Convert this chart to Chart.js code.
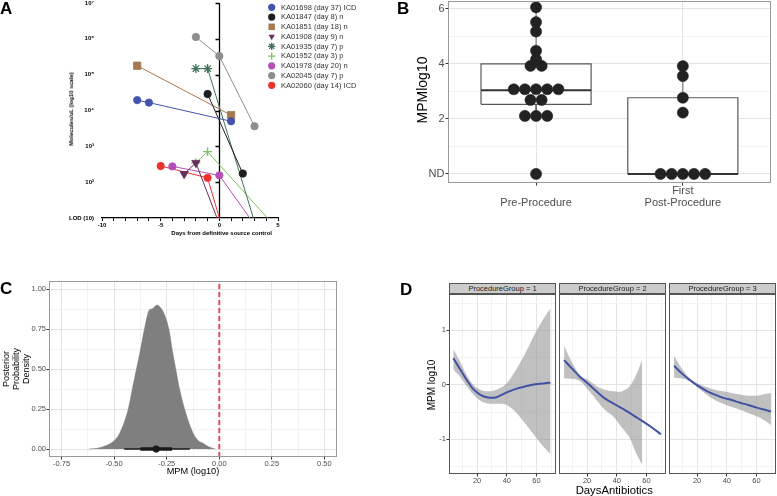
<!DOCTYPE html>
<html>
<head>
<meta charset="utf-8">
<title>MPM figure</title>
<script src="https://cdn.jsdelivr.net/npm/chart.js@4.4.1/dist/chart.umd.min.js"></script>
<style>
  html, body { margin: 0; padding: 0; background: #fff; }
  body { position: relative; width: 777px; height: 496px; overflow: hidden; font-family: "Liberation Sans", Arial, sans-serif; }
  canvas { position: absolute; }
  .t { position: absolute; white-space: nowrap; line-height: 1; color: #000; }
  .letter { font-weight: bold; font-size: 17px; }
  .vert { transform: translate(-50%, -50%) rotate(-90deg); text-align: center; }
  .hor { transform: translate(-50%, -50%); text-align: center; }
  .strip { position: absolute; box-sizing: border-box; top: 283px; width: 107px; height: 11px; background: #CCCCCC; border: 1px solid #555; font-size: 7.5px; color: #1a1a1a; text-align: center; line-height: 9px; }
</style>
</head>
<body>
<canvas id="chartA" width="380" height="260" style="left:0;top:-9px"></canvas>
<canvas id="chartB" width="377" height="230" style="left:400px;top:-11px"></canvas>
<canvas id="chartC" width="380" height="226" style="left:0;top:270px"></canvas>
<canvas id="chartD1" width="160" height="216" style="left:400px;top:280px"></canvas>
<canvas id="chartD2" width="117" height="216" style="left:553px;top:280px"></canvas>
<canvas id="chartD3" width="117" height="216" style="left:663px;top:280px"></canvas>

<div class="t letter" style="left:0;top:-0.5px">A</div>
<div class="t letter" style="left:397px;top:-0.5px">B</div>
<div class="t letter" style="left:0;top:279.5px">C</div>
<div class="t letter" style="left:400px;top:281px">D</div>

<div class="t hor" style="left:221.7px;top:233px;font-size:6px;font-weight:bold">Days from definitive source control</div>
<div class="t vert" style="left:72px;top:108.5px;font-size:5.8px;font-weight:bold">Molecules/uL (log10 scale)</div>

<div class="t vert" style="left:421.7px;top:90px;font-size:14px">MPMlog10</div>

<div class="t vert" style="left:16px;top:369px;font-size:9px;line-height:10px">Posterior<br>Probability<br>Density</div>
<div class="t hor" style="left:193px;top:471.7px;font-size:9.2px">MPM (log10)</div>

<div class="strip" style="left:449px">ProcedureGroup = 1</div>
<div class="strip" style="left:559px">ProcedureGroup = 2</div>
<div class="strip" style="left:669px">ProcedureGroup = 3</div>
<div class="t vert" style="left:431.7px;top:385px;font-size:10px">MPM log10</div>
<div class="t hor" style="left:614.3px;top:490.7px;font-size:11.3px">DaysAntibiotics</div>

<script>
// ---------- Panel A: log10 molecules/uL by day from source control (1 = LOD) ----------
const aSeriesNames = ['KA01698 (day 37) ICD', 'KA01847 (day 8) n', 'KA01851 (day 18) n', 'KA01908 (day 9) n',
  'KA01935 (day 7) p', 'KA01952 (day 3) p', 'KA01978 (day 20) n', 'KA02045 (day 7) p', 'KA02060 (day 14) ICD'];
const ka01698Days = [-7, -6, 1];      const ka01698Log = [4.29, 4.22, 3.70];
const ka01847Days = [-1, 2];          const ka01847Log = [4.46, 2.24];
const ka01851Days = [-7, 1];          const ka01851Log = [5.25, 3.87];
const ka01908Days = [-3, -2, -0.2];   const ka01908Log = [2.23, 2.54, 1];
const ka01935Days = [-2, -1, 2.9];    const ka01935Log = [5.17, 5.17, 1];
const ka01952Days = [-2, -1, 4.1];    const ka01952Log = [2.54, 2.85, 1];
const ka01978Days = [-4, 0, 2.6];     const ka01978Log = [2.44, 2.19, 1];
const ka02045Days = [-2, 0, 3];       const ka02045Log = [6.05, 5.52, 3.56];
const ka02060Days = [-5, -1, 0];      const ka02060Log = [2.45, 2.12, 1];
const aYTickLabels = ['LOD (10)', '10²', '10³', '10⁴', '10⁵', '10⁶', '10⁷'];

// ---------- Panel B: MPM log10 per sample ----------
const bCategories = ['Pre-Procedure', 'First\nPost-Procedure'];
const bPreValues = [6.06, 5.52, 5.18, 4.48, 4.17, 3.93, 3.93, 3.08, 3.08, 3.08, 3.08, 3.08, 2.69, 2.69, 2.11, 2.11, 2.11, 0];
const bPostValues = [3.92, 3.56, 2.77, 2.23, 0, 0, 0, 0, 0];
const bWhiskerLo = [2.11, 0];
const bQ1 = [2.53, 0];
const bMedian = [3.04, 0];
const bQ3 = [4.00, 2.77];
const bWhiskerHi = [6.06, 3.92];

// ---------- Panel C: posterior density ----------
const cDensityX = [-0.62, -0.58, -0.541, -0.502, -0.473, -0.433, -0.41, -0.394, -0.378, -0.356, -0.332, -0.32,
  -0.296, -0.28, -0.264, -0.24, -0.221, -0.207, -0.193, -0.165, -0.125, -0.098, -0.075, -0.059, -0.035, -0.019];
const cDensityY = [0, 0.005, 0.02, 0.05, 0.10, 0.25, 0.40, 0.50, 0.60, 0.75, 0.87, 0.875,
  0.90, 0.885, 0.85, 0.75, 0.60, 0.50, 0.40, 0.25, 0.10, 0.05, 0.035, 0.02, 0.006, 0];
const cIntervalOuter = [-0.452, -0.14];
const cIntervalInner = [-0.375, -0.225];
const cPointEstimate = [-0.30];
const cReference = [0];

// ---------- Panel D: smooth fits by procedure group ----------
const d1X = [4, 8.5, 13, 17.5, 22, 26.5, 31, 35.5, 40, 45.6, 52.4, 59.1, 65.8, 69.4];
const d1Fit = [0.49, 0.29, 0.09, -0.08, -0.18, -0.23, -0.24, -0.2, -0.14, -0.08, -0.03, 0.01, 0.03, 0.04];
const d1Upper = [0.66, 0.43, 0.18, 0, -0.09, -0.12, -0.11, -0.06, 0.03, 0.25, 0.58, 0.95, 1.26, 1.41];
const d1Lower = [0.28, 0.15, -0.02, -0.18, -0.29, -0.34, -0.35, -0.35, -0.37, -0.49, -0.71, -0.95, -1.17, -1.27];

const d2X = [4.5, 9.5, 15.1, 20.7, 26.3, 31.9, 37.5, 43.2, 48.8, 56.7, 63.4, 69.7];
const d2Fit = [0.455, 0.31, 0.15, 0.02, -0.12, -0.25, -0.34, -0.43, -0.52, -0.66, -0.78, -0.91];
const d2BandX = [4.5, 9.5, 15.1, 20.7, 26.3, 31.9, 37.5, 41, 45, 48.8, 53, 57.1];
const d2Upper = [0.72, 0.43, 0.18, 0.09, -0.02, -0.09, -0.12, -0.13, -0.10, -0.02, 0.18, 0.46];
const d2Lower = [0.12, 0.11, 0.07, -0.09, -0.28, -0.46, -0.58, -0.70, -0.84, -0.98, -1.26, -1.47];

const d3X = [4.5, 9.5, 15.1, 20.7, 26.3, 31.9, 37.5, 43.2, 48.8, 54.4, 60, 65.7, 69.7];
const d3Fit = [0.35, 0.215, 0.09, -0.02, -0.11, -0.18, -0.24, -0.28, -0.33, -0.37, -0.42, -0.46, -0.49];
const d3Upper = [0.53, 0.31, 0.12, 0.02, -0.04, -0.09, -0.12, -0.15, -0.18, -0.2, -0.2, -0.17, -0.15];
const d3Lower = [0.13, 0.12, 0.06, -0.06, -0.18, -0.28, -0.35, -0.41, -0.46, -0.52, -0.58, -0.66, -0.74];

Chart.defaults.font.family = '"Liberation Sans", Arial, Helvetica, sans-serif';
Chart.defaults.animation = false;
Chart.defaults.events = [];
Chart.defaults.plugins.legend.display = false;
Chart.defaults.plugins.tooltip.enabled = false;

const near = (v, step) => Math.abs(v / step - Math.round(v / step)) < 1e-6;
const fixedWidth = w => s => { s.width = w; };
const fixedHeight = h => s => { s.height = h; };
const pts = (xs, ys) => xs.map((x, i) => ({ x: x, y: ys[i] }));

// ggplot-like grid: major lines every `step`, lighter minor lines between
function ggGrid(step, ticks) {
  return {
    color: c => (c.tick && near(c.tick.value, step)) ? '#E4E4E4' : '#F2F2F2',
    tickColor: c => (ticks && c.tick && near(c.tick.value, step)) ? '#333' : 'rgba(0,0,0,0)',
    drawTicks: true,
    tickLength: 2.5
  };
}
function frame(color) {
  return {
    id: 'frame',
    afterDatasetsDraw(chart) {
      const a = chart.chartArea, c = chart.ctx;
      c.save();
      c.strokeStyle = color;
      c.lineWidth = 1;
      c.strokeRect(Math.round(a.left) + 0.5, Math.round(a.top) + 0.5, Math.round(a.right - a.left) - 1, Math.round(a.bottom - a.top) - 1);
      c.restore();
    }
  };
}

// ---------------- Panel A ----------------
const aDays = [ka01698Days, ka01847Days, ka01851Days, ka01908Days, ka01935Days, ka01952Days, ka01978Days, ka02045Days, ka02060Days];
const aLogs = [ka01698Log, ka01847Log, ka01851Log, ka01908Log, ka01935Log, ka01952Log, ka01978Log, ka02045Log, ka02060Log];
const aColors = ['#4454AE', '#1E1E1E', '#A57A4F', '#6A2C5D', '#3F7357', '#7DC25C', '#B250B8', '#8E8E8E', '#E8332E'];
const aStyles = ['circle', 'circle', 'rect', 'triangle', 'star', 'cross', 'circle', 'circle', 'circle'];
const aSizes = [3.7, 3.7, 5.2, 4.8, 4.5, 4.5, 3.7, 3.7, 3.7];

function drawMarker(ctx, style, x, y, r, color) {
  ctx.save();
  ctx.fillStyle = color; ctx.strokeStyle = color; ctx.lineWidth = 1.3;
  ctx.beginPath();
  if (style === 'circle') { ctx.arc(x, y, r, 0, Math.PI * 2); ctx.fill(); }
  else if (style === 'rect') { const s = r * Math.SQRT1_2; ctx.rect(x - s, y - s, 2 * s, 2 * s); ctx.fill(); }
  else if (style === 'triangle') {
    ctx.moveTo(x - r * 0.866, y - r / 2); ctx.lineTo(x + r * 0.866, y - r / 2); ctx.lineTo(x, y + r); ctx.closePath(); ctx.fill();
  } else if (style === 'cross') {
    ctx.moveTo(x - r, y); ctx.lineTo(x + r, y); ctx.moveTo(x, y - r); ctx.lineTo(x, y + r); ctx.stroke();
  } else if (style === 'star') {
    for (let k = 0; k < 4; k++) {
      const a = k * Math.PI / 4;
      ctx.moveTo(x - r * Math.cos(a), y - r * Math.sin(a)); ctx.lineTo(x + r * Math.cos(a), y + r * Math.sin(a));
    }
    ctx.stroke();
  }
  ctx.restore();
}

const aAxisAtZero = {
  id: 'aAxisAtZero',
  beforeDatasetsDraw(chart) {
    const { ctx, scales: { x, y } } = chart;
    const px = Math.round(x.getPixelForValue(0)) + 0.5;
    ctx.save();
    ctx.strokeStyle = '#000';
    ctx.lineWidth = 1.3;
    ctx.beginPath();
    ctx.moveTo(px, y.getPixelForValue(y.max));
    ctx.lineTo(px, y.getPixelForValue(y.min));
    for (let v = y.min + 1; v <= y.max; v++) {
      const py = Math.round(y.getPixelForValue(v)) + 0.5;
      ctx.moveTo(px, py); ctx.lineTo(px - 4, py);
    }
    ctx.stroke();
    ctx.restore();
  },
  afterDraw(chart) {
    const ctx = chart.ctx;
    ctx.save();
    ctx.font = '7.5px "Liberation Sans", Arial, sans-serif';
    ctx.fillStyle = '#333';
    ctx.textBaseline = 'middle';
    aSeriesNames.forEach((name, i) => {
      const y = 9 + 7.3 + i * 9.75;
      drawMarker(ctx, aStyles[i], 271.7, y, i === 2 ? 4.6 : 3.6, aColors[i]);
      ctx.fillText(name, 281, y + 0.3);
    });
    ctx.restore();
  }
};

new Chart(document.getElementById('chartA'), {
  type: 'scatter',
  data: {
    datasets: aSeriesNames.map((name, i) => ({
      label: name,
      data: pts(aDays[i], aLogs[i]),
      showLine: true,
      borderColor: aColors[i],
      backgroundColor: aColors[i],
      borderWidth: 1,
      pointStyle: aStyles[i],
      pointRotation: aStyles[i] === 'triangle' ? 180 : 0,
      pointRadius: c => (c.raw && c.raw.y <= 1) ? 0 : aSizes[i],
      pointBorderWidth: (aStyles[i] === 'star' || aStyles[i] === 'cross') ? 1.3 : 0.8,
      pointBorderColor: aColors[i],
      pointBackgroundColor: aColors[i],
      clip: false
    }))
  },
  options: {
    responsive: false,
    layout: { padding: { left: 0, right: 102, top: 12, bottom: 13 } },
    scales: {
      x: {
        type: 'linear', min: -10, max: 5,
        border: { display: true, color: '#000', width: 1.3 },
        grid: { drawOnChartArea: false, drawTicks: true, tickLength: 3, tickColor: '#000' },
        ticks: {
          stepSize: 1, autoSkip: false, maxRotation: 0, padding: 1, color: '#000',
          font: { size: 6, weight: 'bold' },
          callback: v => (v % 5 === 0 ? String(v) : '')
        },
        afterFit: fixedHeight(20)
      },
      y: {
        type: 'linear', min: 1, max: 7,
        border: { display: false },
        grid: { display: false },
        ticks: {
          stepSize: 1, autoSkip: false, padding: 0, color: '#000',
          font: { size: 6, weight: 'bold' },
          callback: v => aYTickLabels[v - 1]
        },
        afterFit: fixedWidth(102)
      }
    }
  },
  plugins: [aAxisAtZero]
});

// ---------------- Panel B ----------------
const dotStep = 0.076;
const boxHalf = 0.375;
function stackDots(values, center) {
  const groups = {};
  values.forEach(v => { const k = v.toFixed(2); (groups[k] = groups[k] || []).push(v); });
  const out = [];
  Object.values(groups).forEach(g => g.forEach((v, k) => out.push({ x: center + (k - (g.length - 1) / 2) * dotStep, y: v })));
  return out;
}
const bDatasets = [{
  data: stackDots(bPreValues, 1).concat(stackDots(bPostValues, 2)),
  pointRadius: 5.6, pointBackgroundColor: '#222', pointBorderColor: '#222', pointBorderWidth: 0.5, order: 0
}];
bCategories.forEach((c, i) => {
  const cx = i + 1;
  bDatasets.push({
    data: [{ x: cx - boxHalf, y: bQ1[i] }, { x: cx + boxHalf, y: bQ1[i] }, { x: cx + boxHalf, y: bQ3[i] },
           { x: cx - boxHalf, y: bQ3[i] }, { x: cx - boxHalf, y: bQ1[i] }],
    showLine: true, fill: 'shape', backgroundColor: '#fff', borderColor: '#595959', borderWidth: 1.2,
    pointRadius: 0, order: 3
  });
  bDatasets.push({
    data: [{ x: cx - boxHalf, y: bMedian[i] }, { x: cx + boxHalf, y: bMedian[i] }],
    showLine: true, borderColor: '#333', borderWidth: 2, pointRadius: 0, order: 2
  });
  bDatasets.push({
    data: [{ x: cx, y: bQ3[i] }, { x: cx, y: bWhiskerHi[i] }],
    showLine: true, borderColor: '#666', borderWidth: 1, pointRadius: 0, order: 1
  });
  bDatasets.push({
    data: [{ x: cx, y: bQ1[i] }, { x: cx, y: bWhiskerLo[i] }],
    showLine: true, borderColor: '#666', borderWidth: 1, pointRadius: 0, order: 1
  });
});

new Chart(document.getElementById('chartB'), {
  type: 'scatter',
  data: { datasets: bDatasets },
  options: {
    responsive: false,
    layout: { padding: { left: 0, right: 4, top: 12, bottom: 0 } },
    scales: {
      x: {
        type: 'linear', min: 0.4, max: 2.6,
        afterBuildTicks: s => { s.ticks = bCategories.map((c, i) => ({ value: i + 1 })); },
        border: { display: false },
        grid: ggGrid(1, true),
        ticks: {
          autoSkip: false, maxRotation: 0, padding: 0, color: '#4D4D4D',
          font: { size: 11, lineHeight: 1.06 },
          callback: v => { const l = bCategories[v - 1].split('\n'); return l.length < 2 ? [''].concat(l) : l; }
        },
        afterFit: fixedHeight(36)
      },
      y: {
        type: 'linear', min: -0.33, max: 6.29,
        border: { display: false },
        grid: ggGrid(2, true),
        ticks: {
          stepSize: 1, includeBounds: false, autoSkip: false, padding: 1, color: '#4D4D4D',
          font: { size: 11 },
          callback: v => (v === 0 ? 'ND' : (v % 2 === 0 ? String(v) : ''))
        },
        afterFit: fixedWidth(48)
      }
    }
  },
  plugins: [frame('#9A9A9A')]
});

// ---------------- Panel C ----------------
new Chart(document.getElementById('chartC'), {
  type: 'scatter',
  data: {
    datasets: [
      { data: cReference.map(v => ({ x: v, y: -0.05 })).concat(cReference.map(v => ({ x: v, y: 1.05 }))),
        showLine: true, borderColor: '#E05058', borderWidth: 2, borderDash: [5, 3], pointRadius: 0, order: -1 },
      { data: cPointEstimate.map(v => ({ x: v, y: 0 })), pointRadius: 3.2, pointBackgroundColor: '#1a1a1a',
        pointBorderColor: '#1a1a1a', order: 0 },
      { data: cIntervalInner.map(v => ({ x: v, y: 0 })), showLine: true, borderColor: '#1a1a1a', borderWidth: 3.5,
        pointRadius: 0, order: 1 },
      { data: cIntervalOuter.map(v => ({ x: v, y: 0 })), showLine: true, borderColor: '#1a1a1a', borderWidth: 1.5,
        pointRadius: 0, order: 2 },
      { data: pts(cDensityX, cDensityY), showLine: true, fill: 'origin', backgroundColor: '#7F7F7F',
        borderColor: '#7F7F7F', borderWidth: 0.5, pointRadius: 0, cubicInterpolationMode: 'monotone', order: 3 }
    ]
  },
  options: {
    responsive: false,
    layout: { padding: { left: 0, right: 43, top: 11, bottom: 0 } },
    scales: {
      x: {
        type: 'linear', min: -0.81, max: 0.56,
        border: { display: false },
        grid: ggGrid(0.25, true),
        ticks: {
          stepSize: 0.125, includeBounds: false, autoSkip: false, maxRotation: 0, padding: 0, color: '#4D4D4D',
          font: { size: 7.5 },
          callback: v => (near(v, 0.25) ? (Math.abs(v) < 1e-9 ? 0 : v).toFixed(2) : '')
        },
        afterFit: fixedHeight(39)
      },
      y: {
        type: 'linear', min: -0.05, max: 1.05,
        border: { display: false },
        grid: ggGrid(0.25, true),
        ticks: {
          stepSize: 0.125, includeBounds: false, autoSkip: false, padding: 0.5, color: '#4D4D4D',
          font: { size: 7.5 },
          callback: v => (near(v, 0.25) ? (Math.abs(v) < 1e-9 ? 0 : v).toFixed(2) : '')
        },
        afterFit: fixedWidth(49)
      }
    }
  },
  plugins: [frame('#9A9A9A')]
});

// ---------------- Panel D ----------------
const bandColor = 'rgba(150,150,150,0.6)';
function facetChart(id, xFit, fit, xBand, upper, lower, yWidth, showY) {
  return new Chart(document.getElementById(id), {
    type: 'scatter',
    data: {
      datasets: [
        { data: pts(xFit, fit), showLine: true, borderColor: '#4152A3', borderWidth: 2, pointRadius: 0,
          cubicInterpolationMode: 'monotone', order: 0 },
        { data: pts(xBand, upper), showLine: true, borderColor: 'rgba(0,0,0,0)', borderWidth: 0, backgroundColor: bandColor,
          fill: '+1', pointRadius: 0, cubicInterpolationMode: 'monotone', order: 1 },
        { data: pts(xBand, lower), showLine: true, borderColor: 'rgba(0,0,0,0)', borderWidth: 0, fill: false,
          pointRadius: 0, cubicInterpolationMode: 'monotone', order: 2 }
      ]
    },
    options: {
      responsive: false,
      layout: { padding: { left: 0, right: 4, top: 14, bottom: 0 } },
      scales: {
        x: {
          type: 'linear', min: 1.1, max: 73.1,
          border: { display: false },
          grid: ggGrid(20, true),
          ticks: {
            stepSize: 10, includeBounds: false, autoSkip: false, maxRotation: 0, padding: 0, color: '#4D4D4D',
            font: { size: 7.5 },
            callback: v => (near(v, 20) ? String(Math.round(v)) : '')
          },
          afterFit: fixedHeight(22)
        },
        y: {
          type: 'linear', min: -1.64, max: 1.67,
          border: { display: false },
          grid: ggGrid(1, showY),
          ticks: {
            display: showY,
            stepSize: 0.5, includeBounds: false, autoSkip: false, padding: 0.5, color: '#4D4D4D',
            font: { size: 7.5 },
            callback: v => (near(v, 1) ? String(Math.round(v) || 0) : '')
          },
          afterFit: fixedWidth(yWidth)
        }
      }
    },
    plugins: [frame('#555')]
  });
}
facetChart('chartD1', d1X, d1Fit, d1X, d1Upper, d1Lower, 49, true);
facetChart('chartD2', d2X, d2Fit, d2BandX, d2Upper, d2Lower, 6, false);
facetChart('chartD3', d3X, d3Fit, d3X, d3Upper, d3Lower, 6, false);
</script>
</body>
</html>
